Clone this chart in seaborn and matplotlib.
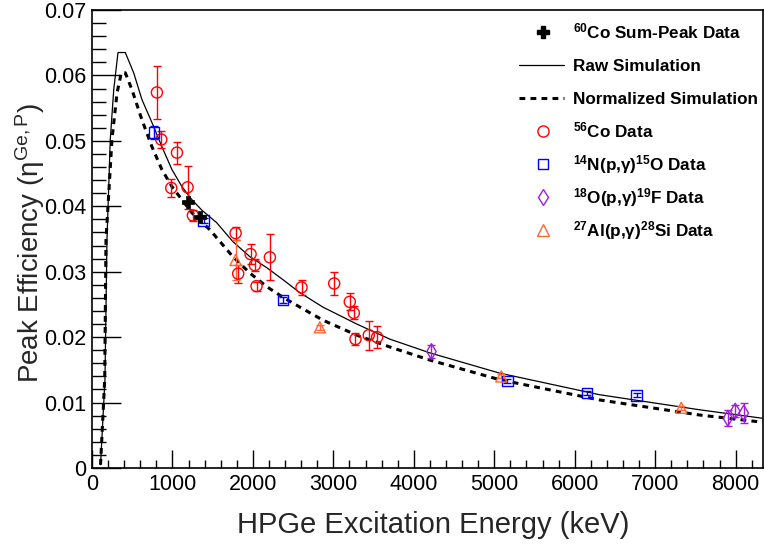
import numpy as np
import pandas as pd
import seaborn as sns
import matplotlib
matplotlib.use("Agg")
import matplotlib.pyplot as plt
from matplotlib.lines import Line2D
from matplotlib.ticker import MultipleLocator

# ---------------- data ----------------
raw_E = [106, 161, 186, 227, 270, 323, 414, 518, 621, 745, 869, 994, 1118, 1242, 1366,
         1549, 1751, 1962, 2174, 2372, 2583, 2869, 3291, 3701, 4198, 5067, 6309, 7551, 8334]
raw_eff = [0.0005, 0.0135, 0.0349, 0.0502, 0.0578, 0.0635, 0.0635, 0.0604, 0.0563, 0.0528,
           0.0491, 0.0456, 0.0430, 0.0410, 0.0394, 0.0375, 0.0346, 0.0323, 0.0306, 0.0288,
           0.0268, 0.0246, 0.0220, 0.0197, 0.0176, 0.0145, 0.0112, 0.0089, 0.0076]

norm_E = [106, 158, 174, 248, 311, 364, 414, 497, 621, 745, 869, 994, 1118, 1242, 1466,
          1751, 1962, 2174, 2372, 2583, 2869, 3291, 3701, 4198, 5067, 6309, 7551, 8334]
norm_eff = [0.0005, 0.0135, 0.0349, 0.0502, 0.0573, 0.0604, 0.0604, 0.0578, 0.0532, 0.0491,
            0.0456, 0.0430, 0.0410, 0.0390, 0.0364, 0.0323, 0.0298, 0.0277, 0.0261, 0.0246,
            0.0226, 0.0203, 0.0185, 0.0165, 0.0135, 0.0104, 0.0081, 0.0070]

co60_E = [1188, 1345]
co60_eff = [0.0406, 0.0383]
co60_err = [0.0008, 0.0006]

co56_E = [807, 861, 1056, 985, 1188, 1254, 1785, 1817, 1971, 2024, 2045, 2211, 2604,
          3010, 3204, 3254, 3275, 3440, 3544]
co56_eff = [0.0574, 0.0502, 0.0482, 0.0428, 0.0429, 0.0386, 0.0359, 0.0297, 0.0327, 0.0310,
            0.0278, 0.0322, 0.0276, 0.0282, 0.0254, 0.0237, 0.0197, 0.0203, 0.0200]
co56_err = [0.0041, 0.0013, 0.0017, 0.0014, 0.0033, 0.0009, 0.0010, 0.0014, 0.0015, 0.0009,
            0.0007, 0.0035, 0.0011, 0.0018, 0.0013, 0.0010, 0.0009, 0.0022, 0.0017]

n14_E = [774, 1387, 2376, 5163, 6156, 6769]
n14_eff = [0.0513, 0.0378, 0.0257, 0.0133, 0.0115, 0.0111]
n14_err = [0.0010, 0.0004, 0.0005, 0.0003, 0.0003, 0.0003]

o18_E = [4219, 7903, 7995, 8101]
o18_eff = [0.0178, 0.0076, 0.0087, 0.0084]
o18_err = [0.0010, 0.0012, 0.0009, 0.0015]

al27_E = [1785, 2832, 5088, 7324]
al27_eff = [0.0318, 0.0215, 0.0140, 0.0092]
al27_err = [0.0031, 0.0004, 0.0003, 0.0003]

x_ticks = [0, 1000, 2000, 3000, 4000, 5000, 6000, 7000, 8000]
y_ticks = [0, 0.01, 0.02, 0.03, 0.04, 0.05, 0.06, 0.07]
y_ticklabels = ["0", "0.01", "0.02", "0.03", "0.04", "0.05", "0.06", "0.07"]

labels = [r"$^{\mathbf{60}}$Co Sum-Peak Data", "Raw Simulation", "Normalized Simulation",
          r"$^{\mathbf{56}}$Co Data", r"$^{\mathbf{14}}$N(p,γ)$^{\mathbf{15}}$O Data",
          r"$^{\mathbf{18}}$O(p,γ)$^{\mathbf{19}}$F Data", r"$^{\mathbf{27}}$Al(p,γ)$^{\mathbf{28}}$Si Data"]

# ---------------- style ----------------
sns.set_theme(style="ticks")
plt.rcParams["font.family"] = ["Liberation Sans", "DejaVu Sans"]
plt.rcParams["mathtext.fontset"] = "custom"
plt.rcParams["mathtext.rm"] = "Liberation Sans"
plt.rcParams["mathtext.it"] = "Liberation Sans:italic"
plt.rcParams["mathtext.bf"] = "Liberation Sans:bold"

RED = "#FF0000"
BLUE = "#0000FF"
PURPLE = "#9B1FD6"
ORANGE = "#FF6633"
W, H = 764, 550

fig = plt.figure(figsize=(W / 100, H / 100), dpi=100)
ax = fig.add_axes([92 / W, 82 / H, 671 / W, 458 / H])

raw_df = pd.DataFrame({"E": raw_E, "eff": raw_eff})
norm_df = pd.DataFrame({"E": norm_E, "eff": norm_eff})
sns.lineplot(data=raw_df, x="E", y="eff", ax=ax, color="black", lw=0.9, sort=False,
             estimator=None)
sns.lineplot(data=norm_df, x="E", y="eff", ax=ax, color="black", lw=2.2, sort=False,
             estimator=None, linestyle=(0, (1.9, 1.7)))

def pts(E, eff, err, color, marker, ms, mew=1.0):
    ax.errorbar(E, eff, yerr=err, fmt="none", ecolor=color, elinewidth=1.0,
                capsize=3, capthick=1.0, zorder=3)
    df = pd.DataFrame({"E": E, "eff": eff})
    sns.scatterplot(data=df, x="E", y="eff", ax=ax, marker=marker, s=ms ** 2,
                    facecolor="none", edgecolor=color, linewidth=mew, zorder=4)

pts(co56_E, co56_eff, co56_err, RED, "o", 8.0)
pts(n14_E, n14_eff, n14_err, BLUE, "s", 7.5)
pts(o18_E, o18_eff, o18_err, PURPLE, "d", 8.0)
pts(al27_E, al27_eff, al27_err, ORANGE, "^", 8.0)
ax.errorbar(co60_E, co60_eff, yerr=co60_err, fmt="none", ecolor="black", elinewidth=1.0,
            capsize=0, zorder=5)
sns.scatterplot(x=co60_E, y=co60_eff, ax=ax, marker="P", s=80, color="black",
                edgecolor="black", linewidth=0.5, zorder=6)

ax.set_xlim(0, 8340)
ax.set_ylim(0, 0.07)
ax.set_xticks(x_ticks)
ax.set_yticks(y_ticks)
ax.set_yticklabels(y_ticklabels)
ax.xaxis.set_minor_locator(MultipleLocator(200))
ax.yaxis.set_minor_locator(MultipleLocator(0.002))
ax.tick_params(axis="both", which="both", direction="in", labelsize=15.5, colors="black",
               top=False, right=False)
ax.tick_params(axis="y", which="major", length=21, width=1.0, pad=4)
ax.tick_params(axis="y", which="minor", length=10, width=1.0)
ax.tick_params(axis="x", which="major", length=13, width=1.0, pad=4)
ax.tick_params(axis="x", which="minor", length=6, width=1.0)
for s in ax.spines.values():
    s.set_color("black")
    s.set_linewidth(1.2)
ax.set_xlabel("HPGe Excitation Energy (keV)", fontsize=21)
ax.xaxis.set_label_coords((433 - 92) / 671, (468 - 511) / 458)
ax.set_ylabel(r"Peak Efficiency (η$^{\mathrm{Ge,P}}$)", fontsize=20)
ax.yaxis.set_label_coords((47 - 92) / 671, 0.492)

# ---------------- legend (ROOT-like, no frame) ----------------
handles = [
    dict(marker="P", color="black", ls="none", ms=8),
    dict(color="black", lw=0.9),
    dict(color="black", lw=2.2, ls=(0, (1.9, 1.7))),
    dict(marker="o", mfc="none", mec=RED, ls="none", ms=8),
    dict(marker="s", mfc="none", mec=BLUE, ls="none", ms=7.5),
    dict(marker="d", mfc="none", mec=PURPLE, ls="none", ms=8),
    dict(marker="^", mfc="none", mec=ORANGE, ls="none", ms=8),
]
for i, (hk, lab) in enumerate(zip(handles, labels)):
    yc = 32 + 33 * i
    yf = 1 - yc / H
    if hk.get("ls", "-") == "none":
        fig.add_artist(Line2D([543 / W], [yf], transform=fig.transFigure, **hk))
    else:
        fig.add_artist(Line2D([519 / W, 564 / W], [yf, yf], transform=fig.transFigure, **hk))
    fig.text(573 / W, 1 - (yc + 6) / H, lab, ha="left", va="baseline",
             fontsize=12.3, fontweight="bold", color="black")

fig.savefig("out.png", dpi=100)
